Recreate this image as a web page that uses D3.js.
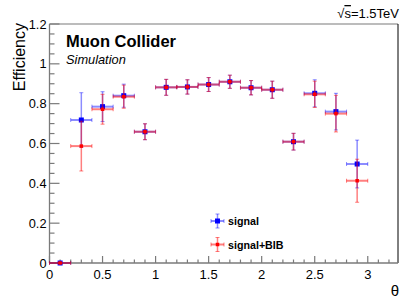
<!DOCTYPE html>
<html>
<head>
<meta charset="utf-8">
<script src="https://cdn.jsdelivr.net/npm/d3@7"></script>
<style>
  body { margin: 0; background: #fff; }
  svg { font-family: "Liberation Sans", Arial, sans-serif; }
</style>
</head>
<body>
<div id="chart"></div>
<script>
// bin centres in theta, half width 0.1
const thetaBins = [0.1, 0.3, 0.5, 0.7, 0.9, 1.1, 1.3, 1.5, 1.7, 1.9, 2.1, 2.3, 2.5, 2.7, 2.9];
const signalEff = [0, 0.718, 0.785, 0.84, 0.659, 0.882, 0.884, 0.896, 0.91, 0.88, 0.87, 0.609, 0.852, 0.76, 0.497];
const signalErr = [0, 0.137, 0.075, 0.058, 0.04, 0.04, 0.036, 0.035, 0.033, 0.036, 0.043, 0.042, 0.068, 0.092, 0.12];
const bibEff = [0, 0.587, 0.772, 0.835, 0.659, 0.882, 0.884, 0.896, 0.91, 0.88, 0.87, 0.609, 0.847, 0.75, 0.413];
const bibErr = [0, 0.125, 0.075, 0.058, 0.04, 0.04, 0.036, 0.035, 0.033, 0.036, 0.043, 0.042, 0.066, 0.092, 0.108];
const binHalf = 0.1;
const xTicks = [0, 0.5, 1, 1.5, 2, 2.5, 3];
const yTicks = [0, 0.2, 0.4, 0.6, 0.8, 1, 1.2];

const W = 415, H = 300;
const m = {left: 49.5, right: 17, top: 24, bottom: 37};

const svg = d3.select('#chart').append('svg')
  .attr('width', W).attr('height', H)
  .attr('viewBox', '0 0 ' + W + ' ' + H);

const x = d3.scaleLinear().domain([0, 3.285]).range([m.left, W - m.right]);
const y = d3.scaleLinear().domain([0, 1.2]).range([H - m.bottom, m.top]);

const axisCol = '#7a7a7a';

// frame: top gray, right black
svg.append('line').attr('x1', x(0)).attr('x2', x(3.285)).attr('y1', y(1.2)).attr('y2', y(1.2))
  .attr('stroke', axisCol).attr('stroke-width', 1.2);
svg.append('line').attr('x1', x(3.285)).attr('x2', x(3.285)).attr('y1', y(1.2)).attr('y2', y(0))
  .attr('stroke', '#000').attr('stroke-width', 1);

// y axis
const yAxis = svg.append('g').attr('transform', 'translate(' + x(0) + ',0)');
yAxis.append('line').attr('y1', y(0)).attr('y2', y(1.2)).attr('stroke', axisCol).attr('stroke-width', 1.3);
const yMinor = d3.range(0, 1.2001, 0.05);
yAxis.selectAll('.ymin').data(yMinor).join('line')
  .attr('x1', 0).attr('x2', (d, i) => i % 4 === 0 ? 10 : 5)
  .attr('y1', d => y(d)).attr('y2', d => y(d))
  .attr('stroke', axisCol).attr('stroke-width', 1.2);
yAxis.selectAll('.ylab').data(yTicks).join('text')
  .attr('x', -3).attr('y', d => y(d) + 4.5)
  .attr('text-anchor', 'end').attr('font-size', 12.8).attr('fill', '#000')
  .text(d => d3.format('~g')(d));

// x axis
const xAxis = svg.append('g');
xAxis.append('line').attr('x1', x(0)).attr('x2', x(3.285)).attr('y1', y(0)).attr('y2', y(0))
  .attr('stroke', axisCol).attr('stroke-width', 1.3);
const xMinor = d3.range(0, 3.2501, 0.1);
xAxis.selectAll('.xmin').data(xMinor).join('line')
  .attr('x1', d => x(d)).attr('x2', d => x(d))
  .attr('y1', y(0)).attr('y2', (d, i) => y(0) - (i % 5 === 0 ? 7 : 3.5))
  .attr('stroke', axisCol).attr('stroke-width', 1.2);
xAxis.selectAll('.xlab').data(xTicks).join('text')
  .attr('x', d => x(d)).attr('y', y(0) + 16)
  .attr('text-anchor', 'middle').attr('font-size', 13).attr('fill', '#000')
  .text(d => d3.format('~g')(d));

// axis titles
svg.append('text').attr('transform', 'translate(24.5,' + (m.top - 1) + ') rotate(-90)')
  .attr('text-anchor', 'end').attr('font-size', 16).text('Efficiency');
svg.append('text').attr('x', 399).attr('y', 296).attr('text-anchor', 'end')
  .attr('font-size', 15).text('θ');

// labels
svg.append('text').attr('x', 66).attr('y', 47).attr('font-size', 16.5).attr('font-weight', 'bold')
  .text('Muon Collider');
svg.append('text').attr('x', 66).attr('y', 63.5).attr('font-size', 12.8).attr('font-style', 'italic')
  .text('Simulation');
const rs = svg.append('text').attr('x', 399).attr('y', 18).attr('text-anchor', 'end').attr('font-size', 13);
rs.append('tspan').text('√');
rs.append('tspan').attr('text-decoration', 'overline').text('s');
rs.append('tspan').text('=1.5TeV');

// data series
const series = [
  {name: 'signal', vals: signalEff, errs: signalErr, col: '#0000ff', bar: 'rgba(0,0,255,0.45)', size: 5},
  {name: 'signal+BIB', vals: bibEff, errs: bibErr, col: '#ff0000', bar: 'rgba(255,0,0,0.5)', size: 3.5}
];

function drawPoint(g, cx, cy, xl, xr, yt, yb, s) {
  const cap = 2;
  g.append('line').attr('x1', xl).attr('x2', xr).attr('y1', cy).attr('y2', cy)
    .attr('stroke', s.bar).attr('stroke-width', 2);
  g.append('line').attr('x1', cx).attr('x2', cx).attr('y1', yt).attr('y2', yb)
    .attr('stroke', s.bar).attr('stroke-width', 1.5);
  [xl, xr].forEach(xx => g.append('line').attr('x1', xx).attr('x2', xx)
    .attr('y1', cy - cap).attr('y2', cy + cap).attr('stroke', s.bar).attr('stroke-width', 1));
  [yt, yb].forEach(yy => g.append('line').attr('x1', cx - cap).attr('x2', cx + cap)
    .attr('y1', yy).attr('y2', yy).attr('stroke', s.bar).attr('stroke-width', 1));
  g.append('rect').attr('x', cx - s.size / 2).attr('y', cy - s.size / 2)
    .attr('width', s.size).attr('height', s.size).attr('fill', s.col);
}

series.forEach(s => {
  const g = svg.append('g').attr('class', s.name);
  thetaBins.forEach((t, i) => {
    const v = s.vals[i], e = s.errs[i];
    drawPoint(g, x(t), y(v), x(t - binHalf), x(t + binHalf), y(v + e), y(v - e), s);
  });
});

// legend
series.forEach((s, i) => {
  const ly = 221 + i * 23.5, lx = 217.5;
  const g = svg.append('g');
  drawPoint(g, lx, ly, lx - 6.5, lx + 6.5, ly - 7, ly + 7, s);
  g.append('text').attr('x', 228).attr('y', ly + 4).attr('font-size', 10.7)
    .attr('font-weight', 'bold').text(s.name);
});
</script>
</body>
</html>
